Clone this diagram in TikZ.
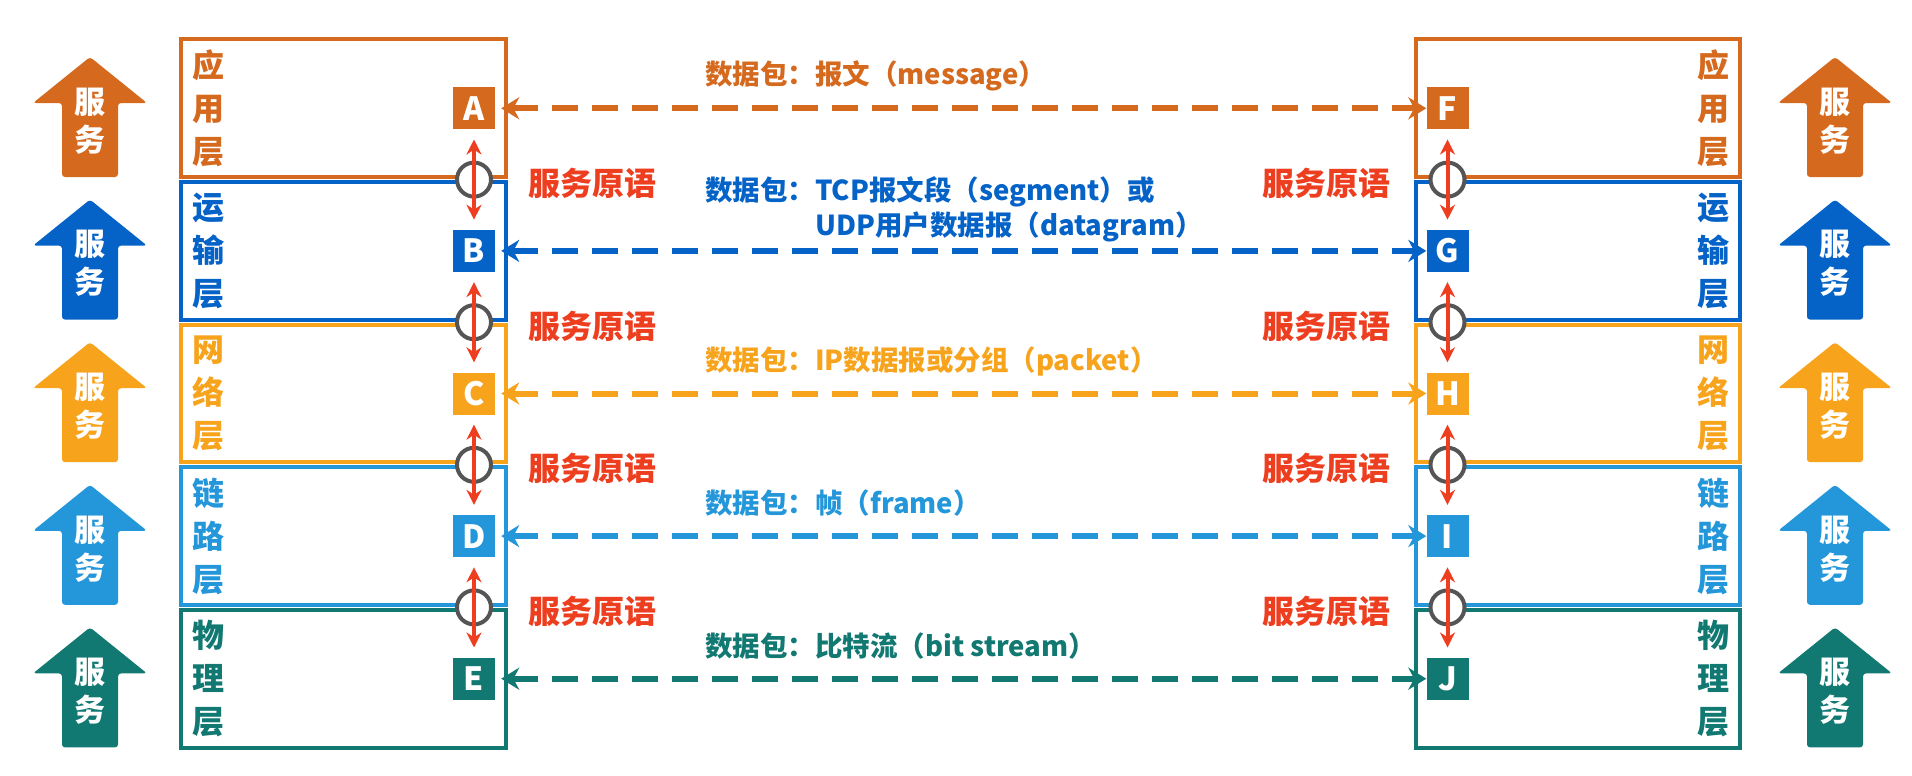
\documentclass[tikz,border=0pt]{standalone}
\usepackage{fontspec}
\setmainfont{Noto Sans CJK SC}
\usetikzlibrary{arrows.meta,positioning,calc}

\definecolor{appc}{RGB}{213,105,30}
\definecolor{trac}{RGB}{5,99,200}
\definecolor{netc}{RGB}{247,163,28}
\definecolor{linc}{RGB}{36,150,218}
\definecolor{phyc}{RGB}{17,120,114}
\definecolor{primc}{RGB}{238,62,32}
\definecolor{ringc}{RGB}{85,85,85}

\begin{document}
\begin{tikzpicture}[x=1pt,y=-1pt,
    layerbox/.style={draw=#1, line width=4pt},
    pointbox/.style={fill=#1, text=white, minimum size=42pt, inner sep=0pt,
        font=\fontsize{32}{32}\selectfont\bfseries},
    layername/.style={text=#1, align=center, inner sep=0pt,
        font=\fontsize{32}{43}\selectfont\bfseries},
    svctext/.style={text=white, align=center, inner sep=0pt,
        font=\fontsize{31}{38}\selectfont\bfseries},
    pdu/.style={draw=#1, line width=6pt, dash pattern=on 26pt off 14pt,
        arrows={Stealth[length=18pt,width=22pt]-Stealth[length=18pt,width=22pt]},
        shorten <=6pt},
    pdutext/.style={text=#1, anchor=west, inner sep=0pt, align=left,
        font=\fontsize{27.5}{35}\selectfont\bfseries},
    ring/.style={circle, draw=ringc, line width=4pt, fill=white,
        minimum size=34pt, inner sep=0pt},
    prim/.style={draw=primc, line width=4pt,
        arrows={Stealth[length=15pt,width=15pt]-Stealth[length=15pt,width=15pt]},
        shorten <=10pt, shorten >=10pt},
    primtext/.style={text=primc, inner sep=0pt,
        font=\fontsize{32}{32}\selectfont\bfseries},
    ]
\useasboundingbox (0,0) rectangle (1912,776);
\fill[white] (0,0) rectangle (1912,776);

% five layers on both sides
\foreach \i/\col/\chA/\chB/\chC/\lname/\rname in
    {0/appc/应/用/层/A/F, 1/trac/运/输/层/B/G, 2/netc/网/络/层/C/H,
     3/linc/链/路/层/D/I, 4/phyc/物/理/层/E/J}{
  \pgfmathsetmacro\ytop{37+142.6*\i}
  \pgfmathsetmacro\ymid{\ytop+71.3}
  \draw[layerbox=\col] (180.5,\ytop+2.5) rectangle (506,\ytop+140.1);
  \draw[layerbox=\col] (1415.5,\ytop+2.5) rectangle (1740,\ytop+140.1);
  \node[layername=\col] (nameL\i) at (208,\ymid) {\chA\\\chB\\\chC};
  \node[layername=\col] (nameR\i) at (1713,\ymid) {\chA\\\chB\\\chC};
  % service arrows
  \foreach \cx/\side in {90/L,1835/R}{
    \fill[\col, rounded corners=3pt] (\cx,\ytop+20) -- (\cx+57,\ytop+66)
      -- (\cx+28,\ytop+66) -- (\cx+28,\ytop+140) -- (\cx-28,\ytop+140)
      -- (\cx-28,\ytop+66) -- (\cx-57,\ytop+66) -- cycle;
    \node[svctext] (svc\side\i) at (\cx,\ytop+84) {服\\务};
  }
  \node[pointbox=\col] (\lname) at (474,\ymid) {\lname};
  \node[pointbox=\col] (\rname) at (1447.5,\ymid) {\rname};
  \draw[pdu=\col] (\lname) -- (\rname);
}

% service primitives between layers
\foreach \u/\v/\k in {A/B/0,B/C/1,C/D/2,D/E/3}{
  \node[ring] (ringL\k) at ($(\u)!0.5!(\v)$) {};
  \draw[prim] (\u) -- (\v);
  \node[primtext, right=35pt of ringL\k, yshift=-4pt] (primL\k) {服务原语};
}
\foreach \u/\v/\k in {F/G/0,G/H/1,H/I/2,I/J/3}{
  \node[ring] (ringR\k) at ($(\u)!0.5!(\v)$) {};
  \draw[prim] (\u) -- (\v);
  \node[primtext, left=38pt of ringR\k, yshift=-4pt] (primR\k) {服务原语};
}

% data units
\node[pdutext=appc] (pduA) at (705,76) {数据包：报文（message）};
\node[pdutext=trac] (pduB) at (705,209)
    {数据包：TCP报文段（segment）或\\\hphantom{数据包：}UDP用户数据报（datagram）};
\node[pdutext=netc] (pduC) at (705,361) {数据包：IP数据报或分组（packet）};
\node[pdutext=linc] (pduD) at (705,503) {数据包：帧（frame）};
\node[pdutext=phyc] (pduE) at (705,646) {数据包：比特流（bit stream）};

\end{tikzpicture}
\end{document}
